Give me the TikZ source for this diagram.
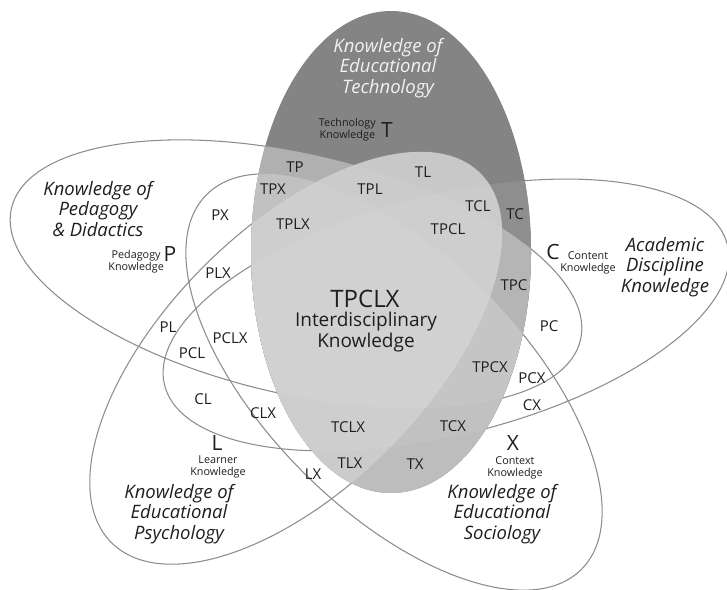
\documentclass[tikz,border=0pt]{standalone}
\usepackage{fontspec}
\setmainfont{Open Sans}
\definecolor{ringgray}{HTML}{8C8C8C}
\definecolor{techgray}{HTML}{848484}
\definecolor{ink}{HTML}{1E1E1E}
\definecolor{paleink}{HTML}{F2F2F2}
% tones of the technology domain where one other domain overlaps it
\definecolor{toneC}{RGB}{134,134,134}
\definecolor{toneP}{RGB}{170,170,170}
\definecolor{toneX}{RGB}{184,184,184}
\definecolor{toneL}{RGB}{196,196,196}

% the five knowledge domains as rotated ellipses (centre, radii, rotation)
\newcommand\shapeT{(391,252) ellipse [x radius=140pt, y radius=241pt]}
\newcommand\shapeP{(296,274) ellipse [x radius=292pt, y radius=120pt]}
\newcommand\shapeC{(446,315) ellipse [x radius=290pt, y radius=120pt]}
\newcommand\shapeL{(296,358) ellipse [x radius=261pt, y radius=130pt]}
\newcommand\shapeX{(394,382) ellipse [x radius=265pt, y radius=128pt]}

\tikzset{
  ring/.style={draw=ringgray, line width=1.05pt},
  rotP/.style={rotate around={-13:(296,274)}},
  rotC/.style={rotate around={14:(446,315)}},
  rotL/.style={rotate around={45:(296,358)}},
  rotX/.style={rotate around={-45:(394,382)}},
  veil/.style={fill=white, fill opacity=0.07},
  zone/.style={font=\fontsize{15}{15}\selectfont, text=ink, inner sep=0pt},
  letter/.style={font=\fontsize{21}{21}\selectfont, text=ink, inner sep=0pt},
  caption/.style={font=\fontsize{10.8}{12}\selectfont, text=ink, inner sep=0pt, align=center},
  realm/.style={font=\itshape\fontsize{18.5}{20.8}\selectfont, text=ink, inner sep=0pt, align=center},
}

\begin{document}
\begin{tikzpicture}[x=1pt, y=-1pt]
\useasboundingbox (0,0) rectangle (727,589);
\fill[white] (0,0) rectangle (727,589);

% outlines of the four outer domains
\draw[ring, rotP] \shapeP;
\draw[ring, rotC] \shapeC;
\draw[ring, rotL] \shapeL;
\draw[ring, rotX] \shapeX;

% technology domain: the lightest overlapping domain sets the tone,
% and every further overlap lightens it a little more
\fill[techgray] \shapeT;
\begin{scope}
  \clip \shapeT;
  \fill[toneC, rotC] \shapeC;
  \fill[toneP, rotP] \shapeP;
  \fill[toneX, rotX] \shapeX;
  \fill[toneL, rotL] \shapeL;
  \fill[veil, rotP] \shapeP;
  \fill[veil, rotC] \shapeC;
  \fill[veil, rotL] \shapeL;
  \fill[veil, rotX] \shapeX;
\end{scope}

% domain titles
\node[realm, text=paleink] (tT) at (388,68) {Knowledge of\\Educational\\Technology};
\node[realm] (tP) at (98,209) {Knowledge of\\Pedagogy\\\& Didactics};
\node[realm] (tC) at (665,267) {Academic\\Discipline\\Knowledge};
\node[realm] (tL) at (179,514) {Knowledge of\\Educational\\Psychology};
\node[realm] (tX) at (502,514) {Knowledge of\\Educational\\Sociology};

% single-domain letters with their captions
\node[letter] (T) at (387,130) {T};
\node[caption, anchor=east] (cT) at (376,130) {Technology\\Knowledge};
\node[letter] (P) at (170,254) {P};
\node[caption, anchor=east] (cP) at (164,262) {Pedagogy\\Knowledge};
\node[letter] (C) at (553,252) {C};
\node[caption] (cC) at (588,263) {Content\\Knowledge};
\node[letter] (L) at (217,443) {L};
\node[caption] (cL) at (218,467) {Learner\\Knowledge};
\node[letter] (X) at (513,443) {X};
\node[caption] (cX) at (515,468) {Context\\Knowledge};

% intersections inside the technology domain
\node[zone] (TP) at (295,167) {TP};
\node[zone] (TL) at (423,172) {TL};
\node[zone] (TPX) at (273,189) {TPX};
\node[zone] (TPL) at (370,189) {TPL};
\node[zone] (TCL) at (478,206) {TCL};
\node[zone] (TC) at (515,214) {TC};
\node[zone] (TPLX) at (293,224) {TPLX};
\node[zone] (TPCL) at (448,229) {TPCL};
\node[zone] (TPC) at (514,285) {TPC};
\node[zone] (TPCX) at (490,367) {TPCX};
\node[zone] (TCLX) at (348,427) {TCLX};
\node[zone] (TCX) at (453,426) {TCX};
\node[zone] (TLX) at (350,463) {TLX};
\node[zone] (TX) at (415,464) {TX};

% intersections outside it
\node[zone] (PX) at (220,215) {PX};
\node[zone] (PLX) at (218,273) {PLX};
\node[zone] (PL) at (168,327) {PL};
\node[zone] (PCLX) at (230,338) {PCLX};
\node[zone] (PCL) at (192,353) {PCL};
\node[zone] (CL) at (203,399) {CL};
\node[zone] (CLX) at (263,413) {CLX};
\node[zone] (LX) at (313,474) {LX};
\node[zone] (PC) at (549,326) {PC};
\node[zone] (PCX) at (532,378) {PCX};
\node[zone] (CX) at (532,405) {CX};

% the centre
\node[font=\fontsize{24}{24}\selectfont, text=ink, inner sep=0pt, anchor=base] (TPCLX) at (365,307) {TPCLX};
\node[font=\fontsize{19}{21}\selectfont, text=ink, inner sep=0pt, align=center, anchor=north] (inter) at (366,312) {Interdisciplinary\\Knowledge};
\end{tikzpicture}
\end{document}
